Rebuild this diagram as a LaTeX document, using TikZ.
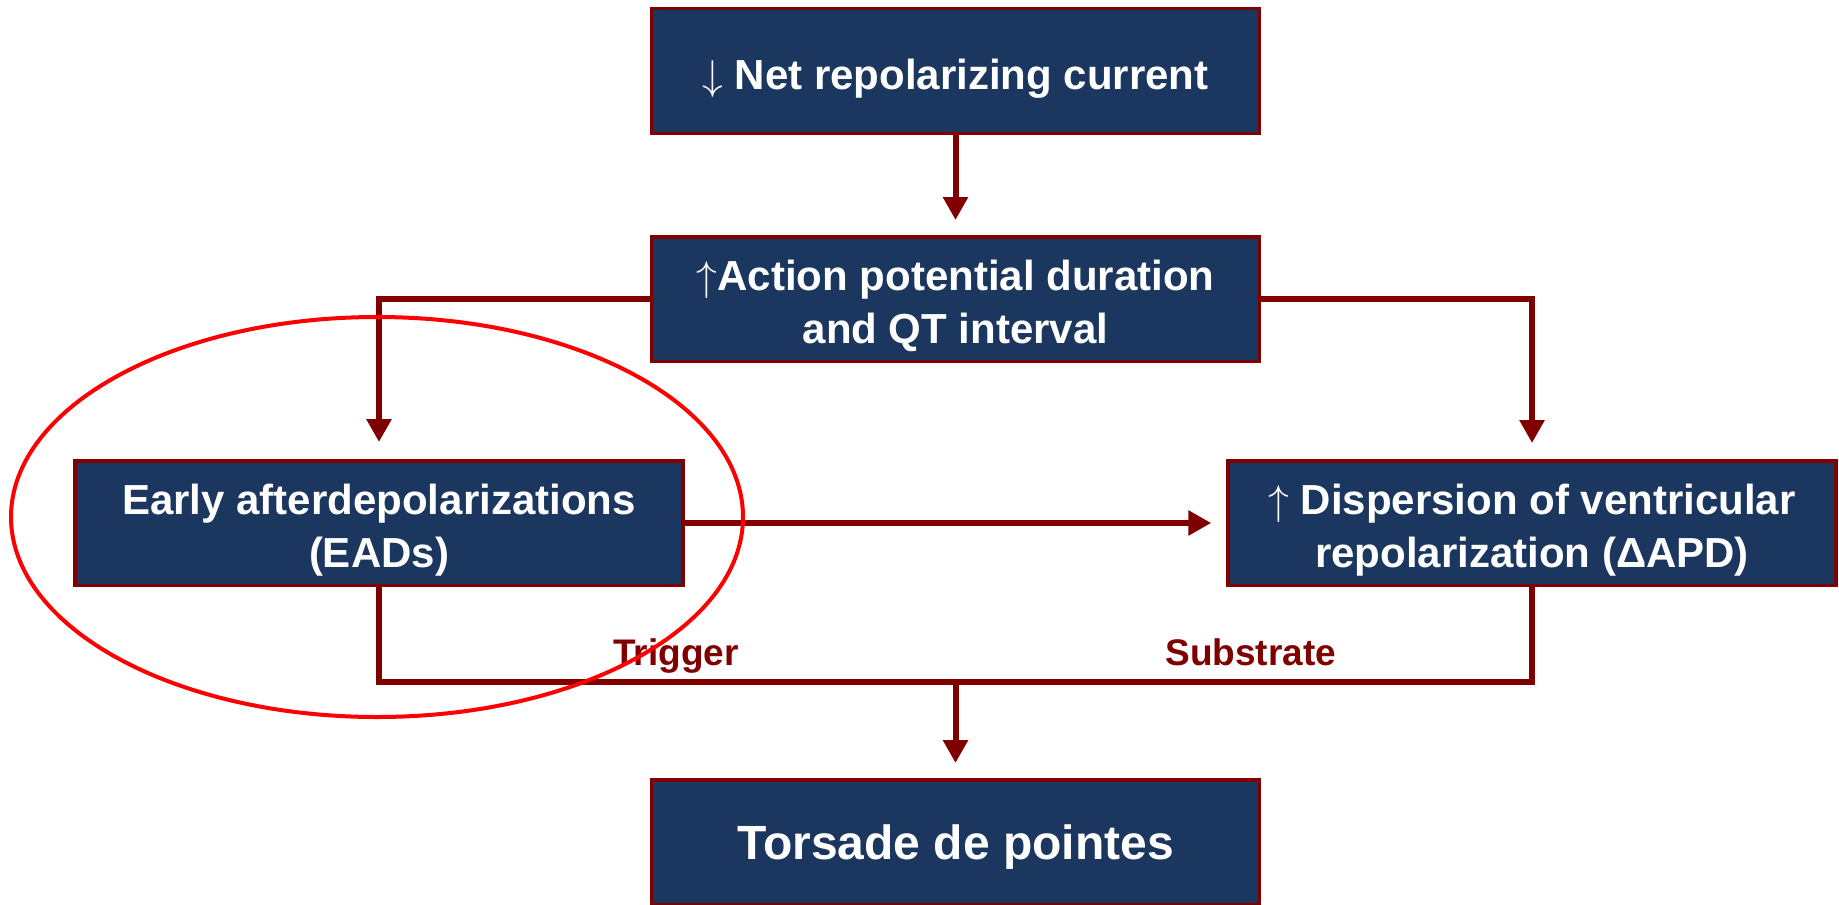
\documentclass[tikz,border=0pt]{standalone}
\usepackage{fontspec}
\setmainfont{Liberation Sans}
\usetikzlibrary{arrows.meta,positioning}
\definecolor{boxnavy}{RGB}{27,55,95}
\definecolor{linkred}{RGB}{128,0,0}
\definecolor{ringred}{RGB}{255,0,0}
\newcommand{\topstrut}{\rule{0pt}{22.5pt}}

\begin{document}
\begin{tikzpicture}[x=0.5pt, y=-0.5pt, node distance=48pt,
    box/.style={rectangle,draw=linkred,fill=boxnavy,line width=1.75pt,text=white,
      minimum width=304pt,minimum height=62.25pt,inner sep=0pt,align=center,
      font=\fontsize{21}{26.5}\selectfont\bfseries},
    link/.style={draw=linkred,line width=3pt,-{Triangle[width=12pt,length=11.5pt]}},
    wire/.style={draw=linkred,line width=3pt},
    lbl/.style={text=linkred,inner sep=0pt,font=\fontsize{18.5}{22}\selectfont\bfseries}]
  \useasboundingbox (0,0) rectangle (1839,904);
  % boxes
  \node[box] (net) at (955.5,71) {\topstrut$\downarrow$ Net repolarizing current};
  \node[box,below=50pt of net] (apd) {\topstrut$\uparrow$Action potential duration\\and QT interval};
  \node[box,below left=48pt and -17.5pt of apd] (ead) {\topstrut Early afterdepolarizations\\(EADs)};
  \node[box,below right=48pt and -17.5pt of apd] (disp) {\topstrut$\uparrow$ Dispersion of ventricular\\repolarization (ΔAPD)};
  \node[box,below=207.5pt of apd,font=\fontsize{24}{29}\selectfont\bfseries] (tdp) {\topstrut Torsade de pointes};
  \coordinate (join) at (955.5,682);
  % connectors
  \draw[link,shorten >=7.5pt] (net) -- (apd);
  \draw[link,shorten >=8.5pt] (apd.west) -| (ead.north);
  \draw[link,shorten >=8pt] (apd.east) -| (disp.north);
  \draw[link,shorten >=7.5pt] (ead) -- (disp);
  \draw[wire] (ead.south) |- (join) -| (disp.south);
  \draw[link,shorten >=7.5pt] (join) -- (tdp);
  \node[lbl,anchor=base east] (trig) at (739,665) {Trigger};
  \node[lbl,anchor=base west] (subs) at (1165,665) {Substrate};
  % highlight
  \draw[ringred,line width=2pt] (377,517) ellipse [x radius=183pt, y radius=100pt];
\end{tikzpicture}
\end{document}
